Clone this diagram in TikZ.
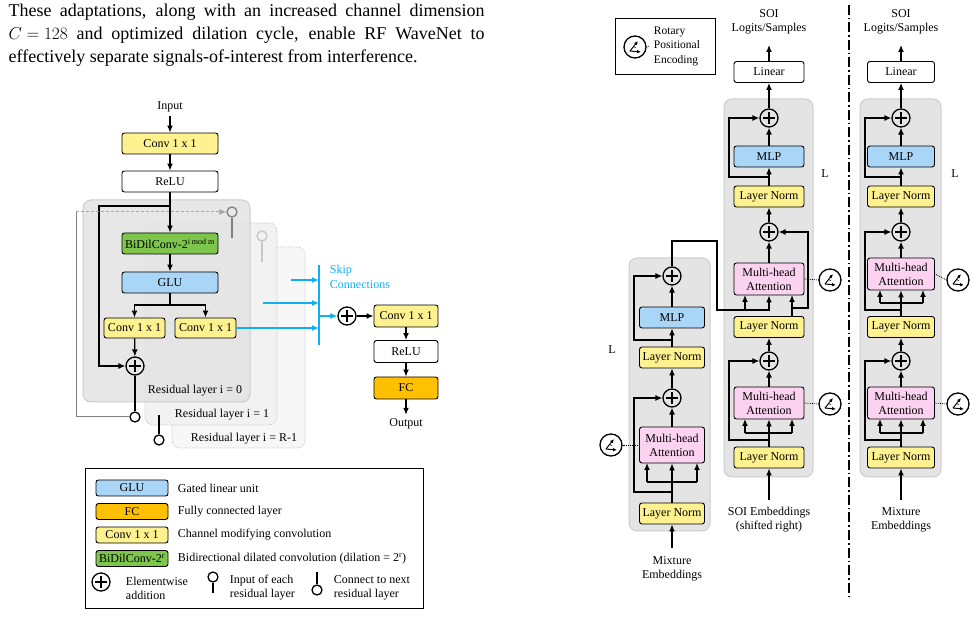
\documentclass[tikz,border=0pt]{standalone}
\usepackage{fontspec}
\setmainfont{Liberation Serif}
\usepackage{tikz}
\usetikzlibrary{arrows.meta,positioning,calc}

\definecolor{boxyellow}{HTML}{FDF28F}
\definecolor{boxblue}{HTML}{A9D5F7}
\definecolor{boxpink}{HTML}{FBD3F0}
\definecolor{boxgreen}{HTML}{7DC64B}
\definecolor{boxorange}{HTML}{FFC000}
\definecolor{skipblue}{HTML}{10B0F0}
\definecolor{layergray}{HTML}{E4E4E4}

\begin{document}
\begin{tikzpicture}[x=1pt, y=-1pt,
    >={Latex[length=7pt,width=6pt]},
    line width=1.3pt,
    box/.style={draw, rounded corners=2.5pt, line width=0.9pt, minimum height=21pt, inner sep=1pt, font=\fontsize{12}{13}\selectfont},
    conv/.style={box, fill=boxyellow},
    plain/.style={box, fill=white},
    glu/.style={box, fill=boxblue},
    mha/.style={box, fill=boxpink, align=center, font=\fontsize{12}{14}\selectfont},
    plus/.style={circle, draw, line width=1.3pt, minimum size=18pt, inner sep=0pt,
        path picture={
            \draw[line width=1.3pt] ([xshift=-6pt]path picture bounding box.center) -- ([xshift=6pt]path picture bounding box.center);
            \draw[line width=1.3pt] ([yshift=-6pt]path picture bounding box.center) -- ([yshift=6pt]path picture bounding box.center);}},
    rope/.style={circle, draw, line width=1.3pt, minimum size=22pt, inner sep=0pt,
        path picture={
            \draw[-{Latex[length=4pt,width=3.5pt]}, line width=1pt] ([shift={(-5pt,-4pt)}]path picture bounding box.center) -- ([shift={(6pt,-5pt)}]path picture bounding box.center);
            \draw[-{Latex[length=4pt,width=3.5pt]}, line width=1pt] ([shift={(-5pt,-4pt)}]path picture bounding box.center) -- ([shift={(3pt,6pt)}]path picture bounding box.center);
            \draw[line width=0.5pt] ([shift={(-2pt,1pt)}]path picture bounding box.center) -- ([shift={(1pt,-1pt)}]path picture bounding box.center);}},
    ring/.style={circle, draw, line width=1.3pt, minimum size=10pt, inner sep=0pt},
    layer/.style={rounded corners=8pt},
    label/.style={font=\fontsize{12}{14}\selectfont, align=center},
    legtext/.style={anchor=west, align=left, font=\fontsize{12}{14}\selectfont}
]
\useasboundingbox (0,0) rectangle (978,617);

% intro paragraph
\node[anchor=north west, text width=476pt, align=justify, inner sep=0pt, font=\fontsize{18}{23}\selectfont] (intro) at (8,3)
    {These adaptations, along with an increased channel dimension\linebreak ${C = 128}$ and optimized dilation cycle, enable RF WaveNet to\linebreak effectively separate signals-of-interest from interference.};

% ---------------- WaveNet ----------------
\fill[layer, fill=gray!6] (172,247) rectangle (305,448);
\draw[layer, gray!60, densely dotted, line width=0.6pt] (172,247) rectangle (305,448);
\fill[layer, fill=gray!10] (145,223) rectangle (277,425);
\draw[layer, gray!60, densely dotted, line width=0.6pt] (145,223) rectangle (277,425);
\fill[layer, fill=layergray, opacity=0.9] (83,200) rectangle (250,402);
\draw[layer, gray!40, line width=1pt] (83,200) rectangle (250,402);

\node[label] (input) at (170,107) {Input};
\node[conv, minimum width=96pt] (conv1) at (170,143.5) {Conv 1 x 1};
\node[plain, minimum width=96pt] (relu1) at (170,181.5) {ReLU};
\node[box, fill=boxgreen, minimum width=96pt] (dil) at (170,243.5) {BiDilConv-2\textsuperscript{\footnotesize i mod m}};
\node[glu, minimum width=96pt] (glu) at (170,282.5) {GLU};
\node[conv, minimum width=61pt, minimum height=20pt] (convl) at (134.5,328) {Conv 1 x 1};
\node[conv, minimum width=61pt, minimum height=20pt] (convr) at (205.5,328) {Conv 1 x 1};
\node[plus] (sum1) at (135,366) {};
\node[ring] (out1) at (135,417) {};
\node[ring, gray] (in1) at (232,212) {};
\node[ring, gray!45] (in2) at (262,236) {};
\node[ring] (out2) at (159,440) {};
\coordinate (split) at (170,206);
\coordinate (fork) at (170,305);

\node[label] at (195,391) {Residual layer i = 0};
\node[label] at (222,415) {Residual layer i = 1};
\node[label] at (244,439) {Residual layer i = R-1};

\draw[->] (input) -- (conv1);
\draw[->] (conv1) -- (relu1);
\draw[->] (relu1) -- (dil);
\draw[->] (split) -- (99,206) -- (99,366) -- (sum1.west);
\draw[->] (dil) -- (glu);
\draw (glu) -- (fork);
\draw[->] (fork) -| (convl.north);
\draw[->] (fork) -| (convr.north);
\draw[->] (convl) -- (sum1);
\draw (sum1) -- (out1);
\draw[gray, line width=1pt] (out1.west) -- (76,417) -- (76,212);
\draw[gray!70, densely dashed, line width=1pt, ->] (76,212) -- (in1.west);
\draw[gray, line width=1.3pt] (in1.south) -- (232,238);
\draw[gray!45, line width=1.3pt] (in2.south) -- (262,262);
\draw (159,415) -- (out2.north);

% skip connections
\node[plus] (sum2) at (347,316) {};
\node[conv, minimum width=64pt, minimum height=22pt] (conv2) at (406,316) {Conv 1 x 1};
\node[plain, minimum width=64pt, minimum height=22pt] (relu2) at (406,351.5) {ReLU};
\node[box, fill=boxorange, minimum width=64pt, minimum height=22pt] (fc) at (406,388) {FC};
\node[label] (output) at (406,424) {Output};
\node[anchor=west, skipblue, align=left, font=\fontsize{12}{14.5}\selectfont] (skiptxt) at (326,277) {Skip\\Connections};
\coordinate (bartop) at (319,265);
\coordinate (barbot) at (319,345);

\draw[skipblue, line width=1.6pt] (bartop) -- (barbot);
\draw[skipblue, ->] (convr.east) -- (319,328);
\draw[skipblue, ->] (291,280) -- (319,280);
\draw[skipblue, ->] (263,303) -- (319,303);
\draw[skipblue, ->] (319,316) -- (sum2.west);
\draw[->] (sum2) -- (conv2);
\draw[->] (conv2) -- (relu2);
\draw[->] (relu2) -- (fc);
\draw[->] (fc) -- (output);

% legend
\draw[line width=0.6pt] (85,468) rectangle (423,608);
\node[glu, minimum width=72pt, minimum height=16pt] (lglu) at (132,488) {GLU};
\node[box, fill=boxorange, minimum width=72pt, minimum height=16pt] (lfc) at (132,511.5) {FC};
\node[conv, minimum width=72pt, minimum height=16pt] (lconv) at (132,535) {Conv 1 x 1};
\node[box, fill=boxgreen, minimum width=72pt, minimum height=16pt] (ldil) at (132,558.5) {BiDilConv-2\textsuperscript{r}};
\node[legtext] at (174,488) {Gated linear unit};
\node[legtext] at (174,511.5) {Fully connected layer};
\node[legtext] at (174,535) {Channel modifying convolution};
\node[legtext] at (174,558.5) {Bidirectional dilated convolution (dilation = 2\textsuperscript{r})};
\node[plus] (lsum) at (101,582) {};
\node[legtext] at (122,588) {Elementwise\\addition};
\node[ring] (lin) at (213,577) {};
\draw (lin.south) -- (213,593);
\node[legtext] at (226,588) {Input of each\\residual layer};
\node[ring] (lout) at (317,590) {};
\draw (317,572) -- (lout.north);
\node[legtext] at (330,588) {Connect to next\\residual layer};

% ---------------- Transformer ----------------
\draw[line width=0.6pt] (615,18) rectangle (715,74);
\node[rope] (lrope) at (635,47) {};
\node[anchor=west, align=left, font=\fontsize{11.5}{14.5}\selectfont] (ltxt) at (650,46) {Rotary\\Positional\\Encoding};
\draw[densely dotted, line width=0.8pt] (lrope.east) -- (ltxt.west);

\draw[line width=1.3pt, dash pattern=on 10pt off 3pt on 1.5pt off 3pt] (849,5) -- (849,597);

\fill[layer, fill=layergray, draw=gray!40, line width=1pt] (629,258) rectangle (710,531);
\fill[layer, fill=layergray, draw=gray!40, line width=1pt] (724,99) rectangle (813,477);
\fill[layer, fill=layergray, draw=gray!40, line width=1pt] (860,99) rectangle (941,477);

% encoder
\node[conv, minimum width=65pt] (encln1) at (672,513.5) {Layer Norm};
\node[mha, minimum width=65pt, minimum height=36pt] (encmha) at (672,445) {Multi-head\\Attention};
\node[plus] (encsum1) at (672,398) {};
\node[conv, minimum width=65pt] (encln2) at (672,357.5) {Layer Norm};
\node[glu, minimum width=65pt] (encmlp) at (672,317.5) {MLP};
\node[plus] (encsum2) at (672,276) {};
\node[rope] (encrope) at (611,445) {};
\node[label] (encin) at (672,569) {Mixture\\Embeddings};
\node[label] at (612,350) {L};

\draw[->] (672,548) -- (encln1);
\draw (encln1) -- (672,482);
\draw (647,482) -- (697,482);
\draw[->] (647,482) -- (647,463);
\draw[->] (672,482) -- (encmha);
\draw[->] (697,482) -- (697,463);
\draw[->] (672,492) -- (634,492) -- (634,398) -- (encsum1.west);
\draw[->] (encmha) -- (encsum1);
\draw[->] (encsum1) -- (encln2);
\draw[->] (encln2) -- (encmlp);
\draw[->] (672,340) -- (634,340) -- (634,276) -- (encsum2.west);
\draw[->] (encmlp) -- (encsum2);
\draw[densely dotted, line width=0.8pt] (encrope.east) -- (encmha.west);

% decoder
\node[conv, minimum width=70pt] (decln1) at (769,457.5) {Layer Norm};
\node[mha, minimum width=70pt, minimum height=32pt] (decmha1) at (769,403) {Multi-head\\Attention};
\node[plus] (decsum1) at (769,361) {};
\node[conv, minimum width=70pt] (decln2) at (769,327) {Layer Norm};
\node[mha, minimum width=70pt, minimum height=32pt] (decmha2) at (769,279) {Multi-head\\Attention};
\node[plus] (decsum2) at (769,232) {};
\node[conv, minimum width=70pt] (decln3) at (769,196.5) {Layer Norm};
\node[glu, minimum width=70pt] (decmlp) at (769,156.5) {MLP};
\node[plus] (decsum3) at (769,118) {};
\node[plain, minimum width=70pt] (declin) at (769,72) {Linear};
\node[label] (decout) at (769,22) {SOI\\Logits/Samples};
\node[label] (decin) at (769,520) {SOI Embeddings\\(shifted right)};
\node[rope] (decrope1) at (830,404) {};
\node[rope] (decrope2) at (830,280) {};
\node[label] at (825,174) {L};

\draw[->] (769,500) -- (decln1);
\draw (decln1) -- (769,433);
\draw (745,433) -- (792,433);
\draw[->] (745,433) -- (745,419);
\draw[->] (769,433) -- (decmha1);
\draw[->] (792,433) -- (792,419);
\draw[->] (769,440) -- (729,440) -- (729,361) -- (decsum1.west);
\draw[->] (decmha1) -- (decsum1);
\draw[->] (decsum1) -- (decln2);
\draw[->] (792,317) -- (792,295);
\draw[->] (792,308) -- (808,308) -- (808,232) -- (decsum2.east);
\draw[->] (encsum2) -- (672,241) -- (717,241) -- (717,310) -- (769,310) -- (decmha2);
\draw[->] (745,310) -- (745,295);
\draw[->] (decmha2) -- (decsum2);
\draw[->] (decsum2) -- (decln3);
\draw[->] (decln3) -- (decmlp);
\draw[->] (769,177) -- (729,177) -- (729,118) -- (decsum3.west);
\draw[->] (decmlp) -- (decsum3);
\draw[->] (decsum3) -- (declin);
\draw[->] (declin) -- (769,45);
\draw[densely dotted, line width=0.8pt] (decrope1.west) -- (decmha1.east);
\draw[densely dotted, line width=0.8pt] (decrope2.west) -- (decmha2.east);

% encoder-only variant
\node[conv, minimum width=67pt] (altln1) at (901,457.5) {Layer Norm};
\node[mha, minimum width=67pt, minimum height=32pt] (altmha1) at (901,403) {Multi-head\\Attention};
\node[plus] (altsum1) at (901,361) {};
\node[conv, minimum width=67pt] (altln2) at (901,327) {Layer Norm};
\node[mha, minimum width=67pt, minimum height=32pt] (altmha2) at (901,274) {Multi-head\\Attention};
\node[plus] (altsum2) at (901,232) {};
\node[conv, minimum width=67pt] (altln3) at (901,196.5) {Layer Norm};
\node[glu, minimum width=67pt] (altmlp) at (901,156.5) {MLP};
\node[plus] (altsum3) at (901,118) {};
\node[plain, minimum width=67pt] (altlin) at (901,72) {Linear};
\node[label] (altout) at (901,22) {SOI\\Logits/Samples};
\node[label] (altin) at (901,520) {Mixture\\Embeddings};
\node[rope] (altrope1) at (958,404) {};
\node[rope] (altrope2) at (958,280) {};
\node[label] at (955,174) {L};

\draw[->] (901,500) -- (altln1);
\draw (altln1) -- (901,433);
\draw (880,433) -- (923,433);
\draw[->] (880,433) -- (880,419);
\draw[->] (901,433) -- (altmha1);
\draw[->] (923,433) -- (923,419);
\draw[->] (901,440) -- (865,440) -- (865,361) -- (altsum1.west);
\draw[->] (altmha1) -- (altsum1);
\draw[->] (altsum1) -- (altln2);
\draw (altln2) -- (901,303);
\draw (880,303) -- (923,303);
\draw[->] (880,303) -- (880,290);
\draw[->] (901,303) -- (altmha2);
\draw[->] (923,303) -- (923,290);
\draw[->] (901,310) -- (865,310) -- (865,232) -- (altsum2.west);
\draw[->] (altmha2) -- (altsum2);
\draw[->] (altsum2) -- (altln3);
\draw[->] (altln3) -- (altmlp);
\draw[->] (901,177) -- (865,177) -- (865,118) -- (altsum3.west);
\draw[->] (altmlp) -- (altsum3);
\draw[->] (altsum3) -- (altlin);
\draw[->] (altlin) -- (901,45);
\draw[densely dotted, line width=0.8pt] (altrope1.west) -- (altmha1.east);
\draw[densely dotted, line width=0.8pt] (altrope2.west) -- (altmha2.east);
\end{tikzpicture}
\end{document}
